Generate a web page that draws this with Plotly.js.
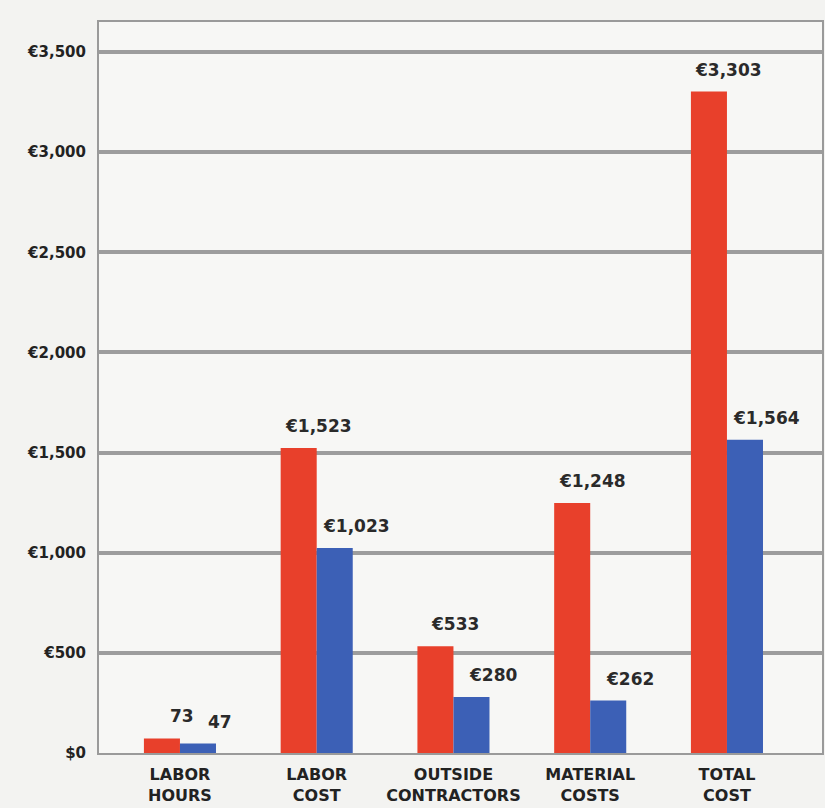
<!DOCTYPE html>
<html>
<head>
<meta charset="utf-8">
<script src="https://cdn.plot.ly/plotly-3.0.1.min.js"></script>
<style>
  html, body { margin: 0; padding: 0; background: #f3f3f1; }
  #chart { width: 825px; height: 808px; }
</style>
</head>
<body>
<div id="chart"></div>
<script>
const categories = ["LABOR<br>HOURS", "LABOR<br>COST", "OUTSIDE<br>CONTRACTORS", "MATERIAL<br>COSTS", "TOTAL<br>COST"];
const seriesRed = [73, 1523, 533, 1248, 3303];
const seriesBlue = [47, 1023, 280, 262, 1564];
const labelsRed = ["73", "€1,523", "€533", "€1,248", "€3,303"];
const labelsBlue = ["47", "€1,023", "€280", "€262", "€1,564"];
const yTickVals = [0, 500, 1000, 1500, 2000, 2500, 3000, 3500];
const yTickText = ["$0", "€500", "€1,000", "€1,500", "€2,000", "€2,500", "€3,000", "€3,500"];

const RED = "#e8402b";
const BLUE = "#3c60b6";
const FONT = "DejaVu Sans, Liberation Sans, Arial, sans-serif";

const traces = [
  { type: "bar", x: categories, y: seriesRed, marker: { color: RED }, hoverinfo: "skip" },
  { type: "bar", x: categories, y: seriesBlue, marker: { color: BLUE }, hoverinfo: "skip" }
];

const annotations = [];
categories.forEach((c, i) => {
  annotations.push({ x: c, y: seriesRed[i], xref: "x", yref: "y", text: "<b>" + labelsRed[i] + "</b>",
    showarrow: false, xshift: 2, yshift: 22, font: { family: FONT, size: 17, color: "#2a2a2a" } });
  annotations.push({ x: c, y: seriesBlue[i], xref: "x", yref: "y", text: "<b>" + labelsBlue[i] + "</b>",
    showarrow: false, xshift: 40, yshift: 22, font: { family: FONT, size: 17, color: "#2a2a2a" } });
});

const layout = {
  width: 825, height: 808,
  margin: { l: 99, r: 3, t: 22, b: 55 },
  paper_bgcolor: "#f3f3f1",
  plot_bgcolor: "#f7f7f5",
  showlegend: false,
  barmode: "group",
  bargap: 0.473,
  bargroupgap: 0,
  xaxis: {
    type: "category",
    range: [-0.592, 4.695],
    showgrid: false,
    showline: true, linecolor: "#9a9a9a", linewidth: 2, mirror: true,
    ticks: "", ticklabelstandoff: 6,
    tickfont: { family: FONT, size: 16, color: "#222" },
    tickvals: categories,
    ticktext: categories.map(c => "<b>" + c.replace("<br>", "</b><br><b>") + "</b>")
  },
  yaxis: {
    range: [0, 3650],
    tickvals: yTickVals,
    ticktext: yTickText.map(t => "<b>" + t + "</b>"),
    showgrid: true, gridcolor: "#9d9d9d", gridwidth: 4,
    zeroline: false,
    showline: true, linecolor: "#9a9a9a", linewidth: 2, mirror: true,
    ticks: "", ticklabelstandoff: 8,
    tickfont: { family: FONT, size: 15, color: "#222" }
  },
  annotations: annotations
};

Plotly.newPlot("chart", traces, layout, { displayModeBar: false, staticPlot: true });
</script>
</body>
</html>
